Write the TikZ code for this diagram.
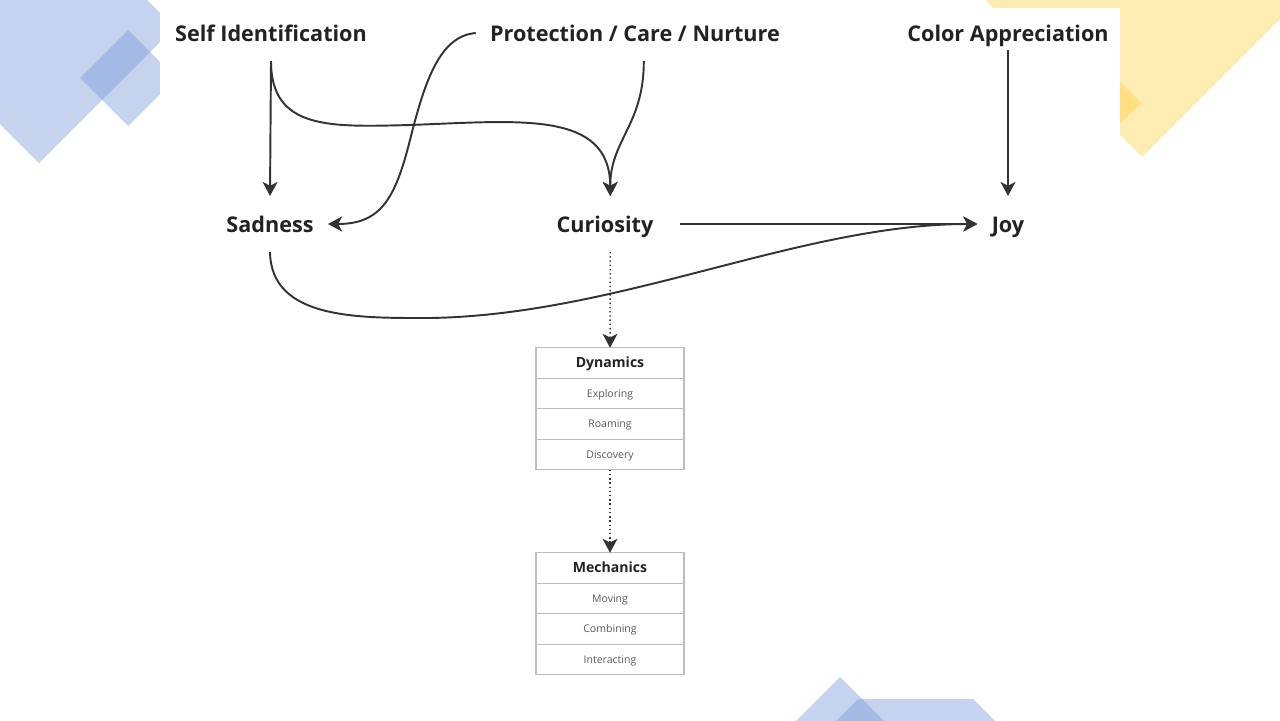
\documentclass[tikz,border=0pt]{standalone}
\usepackage{fontspec}
\setmainfont{Open Sans}
\usetikzlibrary{positioning}
\usetikzlibrary{arrows.meta}
\definecolor{ink}{HTML}{333333}
\definecolor{txt}{HTML}{222222}
\definecolor{rowline}{HTML}{BDBDBD}
\definecolor{decoblue}{RGB}{115,149,214}
\definecolor{decoyellow}{RGB}{255,195,20}

\begin{document}
\begin{tikzpicture}[x=0.02cm,y=-0.02cm,
    emo/.style={font=\fontsize{12.3}{15}\selectfont\bfseries, text=txt, inner xsep=8pt, inner ysep=10pt, text height=10.5pt, text depth=1pt},
    link/.style={ink, line width=1.1pt, -{Stealth[length=8pt,width=8.5pt,inset=2.2pt]}},
    flow/.style={link, line width=0.8pt, dash pattern=on 0.8pt off 1.6pt},
    head/.style={draw=rowline, line width=0.6pt, fill=white, minimum width=2.96cm, minimum height=0.61cm, outer sep=0pt, inner sep=0pt, font=\fontsize{8}{10}\selectfont\bfseries, text=txt, text height=6pt, text depth=1pt},
    row/.style={head, font=\fontsize{6}{8}\selectfont, text=black!65, text height=4.5pt, text depth=0.5pt}]
    \useasboundingbox (0,0) rectangle (1280,720);
    \clip (0,0) rectangle (1280,720);
    \begin{scope}[fill opacity=0.41]
        \fill[decoblue] (174.5,27.5) -- (39,163) -- (-96.5,27.5) -- (39,-108) -- cycle;
        \fill[decoblue] (128,30) -- (176,78) -- (128,126) -- (80,78) -- cycle;
        \fill[decoblue] (915.5,641.5) -- (1015,741) -- (915.5,840) -- (816,741) -- cycle;
    \end{scope}
    \begin{scope}[fill opacity=0.32]
        \fill[decoyellow] (942,-43) -- (1142,157) -- (1342,-43) -- cycle;
        \fill[decoyellow] (1093,55) -- (1141,103) -- (1093,151) -- (1045,103) -- cycle;
    \end{scope}
    \fill[white] (160,8) rectangle (1120,699);
    \fill[decoblue, fill opacity=0.41] (840,677) -- (900,737) -- (840,797) -- (780,737) -- cycle;

    \node[emo] (self) at (271,33) {Self Identification};
    \node[emo] (care) at (635,33) {Protection / Care / Nurture};
    \node[emo] (color) at (1008,33) {Color Appreciation};
    \node[emo] (sad) at (270,224) {Sadness};
    \node[emo] (cur) at (605,224) {Curiosity};
    \node[emo] (joy) at (1008,224) {Joy};

    \node[head] (dyn) at (610,363) {Dynamics};
    \node[row, below=0pt of dyn] (dyn-a) {Exploring};
    \node[row, below=0pt of dyn-a] (dyn-b) {Roaming};
    \node[row, below=0pt of dyn-b] (dyn-c) {Discovery};
    \node[head] (mech) at (610,568) {Mechanics};
    \node[row, below=0pt of mech] (mech-a) {Moving};
    \node[row, below=0pt of mech-a] (mech-b) {Combining};
    \node[row, below=0pt of mech-b] (mech-c) {Interacting};

    \draw[link] (self.south) -- (sad.north);
    \draw[link] (self.south) .. controls (271,130) and (330,127) .. (410,125) .. controls (520,121) and (610,110) .. ([xshift=3pt]cur.north);
    \draw[link] ([xshift=5pt]care.south) .. controls (644,125) and (610,140) .. ([xshift=3pt]cur.north);
    \draw[link] (care.west) .. controls (440,36) and (425,80) .. (410,140) .. controls (395,200) and (380,224) .. (sad.east);
    \draw[link] ([yshift=6pt]color.south) -- (joy.north);
    \draw[link] ([xshift=7pt]cur.east) -- (joy.west);
    \draw[link] (sad.south) .. controls (271,320) and (360,318) .. (430,318) .. controls (620,315) and (800,224) .. (joy.west);
    \draw[flow] ([xshift=3pt]cur.south) -- (dyn.north);
    \draw[flow] (dyn-c.south) -- (mech.north);
\end{tikzpicture}
\end{document}
